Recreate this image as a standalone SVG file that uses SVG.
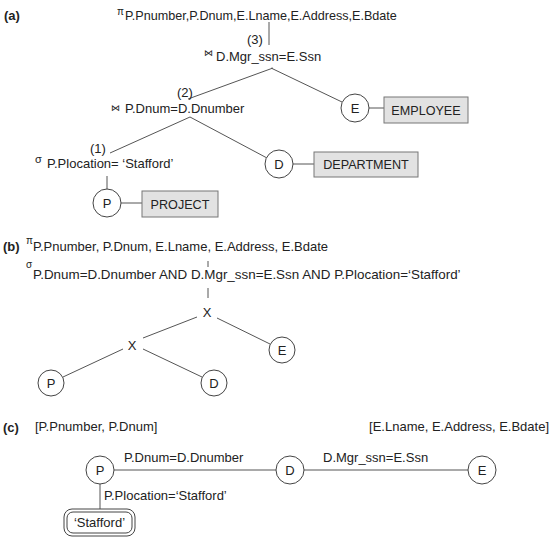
<svg xmlns="http://www.w3.org/2000/svg" width="550" height="545" viewBox="0 0 550 545">
<style>
text{font-family:"Liberation Sans",Arial,sans-serif;font-size:13px;fill:#222}
.lab{font-weight:bold;font-size:13px}
.sym{font-size:9px}
.mid{text-anchor:middle}
.c{fill:#fff;stroke:#444;stroke-width:1}
.box{fill:#e2e2e2;stroke:#777;stroke-width:1}
#connectors line{stroke:#555;stroke-width:1}
</style>
<rect width="550" height="545" fill="#fff"/>
<g id="connectors">
<line x1="269" y1="22" x2="269" y2="45"/>
<line x1="273" y1="68" x2="188" y2="99"/>
<line x1="271" y1="68" x2="342" y2="102"/>
<line x1="369" y1="108" x2="384" y2="108"/>
<line x1="190" y1="117" x2="110" y2="153"/>
<line x1="190" y1="117" x2="267" y2="158"/>
<line x1="293" y1="164" x2="314" y2="164"/>
<line x1="107" y1="176" x2="107" y2="189"/>
<line x1="121" y1="203" x2="142" y2="203"/>
<line x1="208" y1="261" x2="208" y2="267"/>
<line x1="208" y1="288" x2="208" y2="298"/>
<line x1="197" y1="317" x2="143" y2="338"/>
<line x1="217" y1="318" x2="270" y2="344"/>
<line x1="123" y1="349" x2="63" y2="377"/>
<line x1="143" y1="349" x2="202" y2="377"/>
<line x1="114" y1="470" x2="276" y2="470"/>
<line x1="304" y1="470" x2="468" y2="470"/>
<line x1="100" y1="484" x2="100" y2="509"/>
</g>
<g id="labels">
<text class="lab" x="4" y="20">(a)</text>
<text class="lab" x="3" y="251">(b)</text>
<text class="lab" x="3" y="432">(c)</text>
</g>
<g id="a-project">
<text class="sym" x="117" y="15" style="font-size:10px">π</text>
<text x="125" y="20" style="font-size:12.6px">P.Pnumber,P.Dnum,E.Lname,E.Address,E.Bdate</text>
</g>
<g id="a-join3">
<text x="247" y="44">(3)</text>
<text class="sym" x="204" y="56">⋈</text>
<text x="216" y="61">D.Mgr_ssn=E.Ssn</text>
</g>
<g id="a-join2">
<text x="177" y="97">(2)</text>
<text class="sym" x="111" y="111">⋈</text>
<text x="125" y="113">P.Dnum=D.Dnumber</text>
</g>
<g id="a-select1">
<text x="90" y="153">(1)</text>
<text class="sym" x="35" y="163" style="font-size:11px">σ</text>
<text x="47" y="168">P.Plocation= ‘Stafford’</text>
</g>
<g id="a-E">
<circle class="c" cx="355" cy="108" r="14"/>
<text class="mid" x="355" y="113">E</text>
</g>
<g id="a-EMPLOYEE">
<rect class="box" x="384" y="97" width="84" height="26"/>
<text class="mid" x="426" y="115" style="font-size:12.6px">EMPLOYEE</text>
</g>
<g id="a-D">
<circle class="c" cx="279" cy="164" r="14"/>
<text class="mid" x="279" y="169">D</text>
</g>
<g id="a-DEPARTMENT">
<rect class="box" x="314" y="152" width="104" height="25"/>
<text class="mid" x="366" y="169" style="font-size:12.6px">DEPARTMENT</text>
</g>
<g id="a-P">
<circle class="c" cx="107" cy="203" r="14"/>
<text class="mid" x="107" y="208">P</text>
</g>
<g id="a-PROJECT">
<rect class="box" x="142" y="191" width="76" height="26"/>
<text class="mid" x="180" y="209" style="font-size:12.6px">PROJECT</text>
</g>
<g id="b-project">
<text class="sym" x="26" y="244" style="font-size:10px">π</text>
<text x="33" y="251">P.Pnumber, P.Dnum, E.Lname, E.Address, E.Bdate</text>
</g>
<g id="b-select">
<text class="sym" x="26" y="268" style="font-size:10px">σ</text>
<text x="33" y="279" style="font-size:13.4px">P.Dnum=D.Dnumber AND D.Mgr_ssn=E.Ssn AND P.Plocation=‘Stafford’</text>
</g>
<g id="b-X1">
<text class="mid" x="207" y="317">X</text>
</g>
<g id="b-X2">
<text class="mid" x="132" y="350">X</text>
</g>
<g id="b-E">
<circle class="c" cx="282" cy="350" r="13"/>
<text class="mid" x="282" y="355">E</text>
</g>
<g id="b-P">
<circle class="c" cx="51" cy="383" r="13"/>
<text class="mid" x="51" y="388">P</text>
</g>
<g id="b-D">
<circle class="c" cx="214" cy="383" r="13"/>
<text class="mid" x="214" y="388">D</text>
</g>
<g id="c-attrs">
<text x="35" y="431">[P.Pnumber, P.Dnum]</text>
<text x="549" y="431" style="text-anchor:end">[E.Lname, E.Address, E.Bdate]</text>
</g>
<g id="c-P">
<circle class="c" cx="100" cy="470" r="14"/>
<text class="mid" x="100" y="475">P</text>
</g>
<g id="c-D">
<circle class="c" cx="290" cy="470" r="14"/>
<text class="mid" x="290" y="475">D</text>
</g>
<g id="c-E">
<circle class="c" cx="482" cy="470" r="14"/>
<text class="mid" x="482" y="475">E</text>
</g>
<g id="c-edge-labels">
<text x="124" y="462">P.Dnum=D.Dnumber</text>
<text x="323" y="462">D.Mgr_ssn=E.Ssn</text>
<text x="104" y="500">P.Plocation=‘Stafford’</text>
</g>
<g id="c-Stafford">
<rect x="64" y="509" width="71" height="27" rx="8" fill="#fff" stroke="#444"/>
<rect x="67" y="512" width="65" height="21" rx="6" fill="none" stroke="#444"/>
<text class="mid" x="99.5" y="527">‘Stafford’</text>
</g>
</svg>
